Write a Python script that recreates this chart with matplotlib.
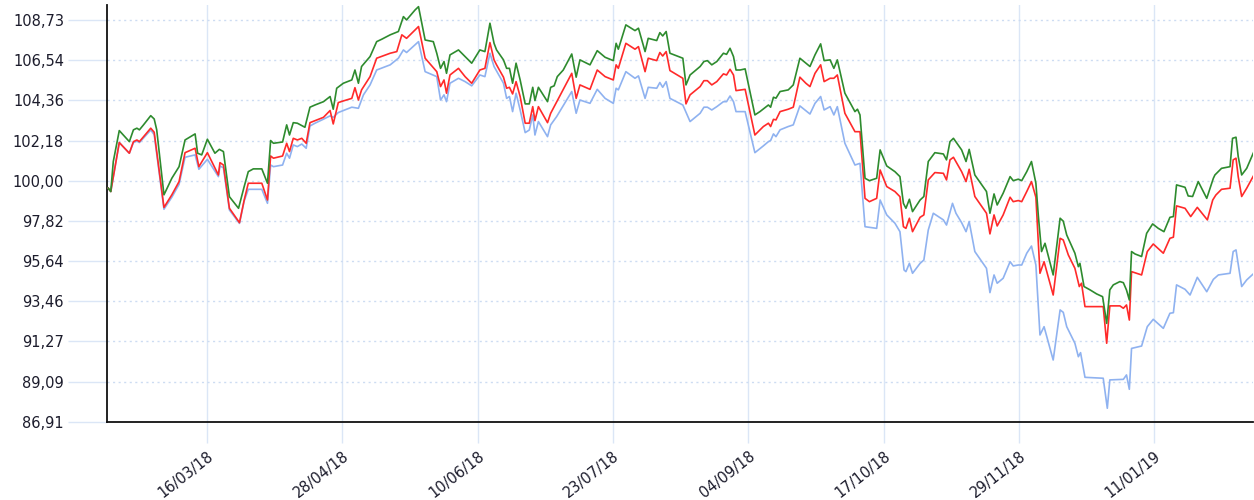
import matplotlib
matplotlib.use("Agg")
import matplotlib.pyplot as plt
import pandas as pd

START = pd.Timestamp("2018-02-12")

green_days = [0.6,1.4,2.2,4.1,7.3,8.6,9.7,10.5,11.8,14.1,15.2,16.0,18.3,20.8,23.1,25.0,28.2,29.0,30.3,32.1,34.5,35.9,37.2,39.1,42.0,43.8,45.1,46.7,49.4,51.2,52.2,53.1,56.0,57.3,58.2,59.4,60.7,63.1,64.7,66.3,69.0,71.1,72.1,73.2,75.3,78.0,79.0,80.1,81.1,83.8,85.9,87.5,90.2,92.8,94.4,95.4,98.1,99.2,101.3,103.9,105.0,106.2,107.3,108.1,109.2,111.9,114.0,116.1,118.7,120.3,121.9,123.2,124.0,126.2,127.2,128.1,129.1,130.2,131.5,133.1,134.4,135.5,136.2,137.3,140.2,141.2,142.3,143.3,145.2,147.9,149.3,150.5,153.7,156.0,158.5,161.1,162.0,162.7,165.1,168.0,169.1,171.2,172.2,174.9,175.9,176.8,177.9,179.1,183.2,184.2,185.5,188.7,189.9,191.0,192.4,194.0,196.1,197.1,198.2,199.3,200.1,201.4,203.0,206.1,207.7,210.4,211.1,212.0,212.8,214.1,216.7,218.3,220.4,222.3,223.6,225.2,227.0,228.1,230.0,231.2,232.3,234.7,237.9,238.7,239.5,241.1,242.5,244.8,245.9,248.0,250.6,252.2,253.3,254.1,255.2,256.2,258.6,259.8,261.2,263.3,266.0,267.0,268.1,269.2,271.8,273.2,274.2,276.0,279.7,280.8,282.1,283.1,285.0,287.2,288.2,289.8,290.9,292.5,294.0,295.4,296.2,297.2,298.3,300.9,303.1,304.1,305.2,307.8,308.9,309.4,310.7,312.6,314.7,316.6,317.9,318.9,320.0,322.1,323.2,324.2,325.1,325.8,326.9,329.0,330.6,332.5,334.3,336.1,338.0,339.1,340.1,342.8,343.8,345.2,347.0,349.7,351.8,352.3,354.4,357.1,357.9,359.0,359.7,360.8,362.4,364.7]
green_vals = [99.59,99.41,101.04,102.72,102.12,102.76,102.85,102.76,103.03,103.53,103.35,102.76,99.23,100.13,100.76,102.21,102.54,101.49,101.40,102.25,101.49,101.70,101.58,99.13,98.50,99.68,100.49,100.64,100.64,99.86,102.18,102.03,102.10,103.03,102.48,103.15,103.12,102.90,103.99,104.11,104.29,104.57,103.88,105.02,105.29,105.47,106.01,105.29,106.2,106.74,107.55,107.68,107.92,108.10,108.91,108.73,109.27,109.45,107.64,107.55,106.92,106.10,106.47,105.83,106.83,107.10,106.74,106.38,107.10,107.01,108.55,107.46,107.10,106.56,106.10,106.10,105.29,106.38,105.47,104.17,104.17,105.07,104.35,105.07,104.29,105.07,105.15,105.65,106.01,106.88,105.62,106.56,106.29,107.06,106.70,106.52,107.46,107.14,108.46,108.15,108.28,107.01,107.73,107.61,108.04,107.86,108.10,106.92,106.65,105.2,105.74,106.2,106.47,106.52,106.29,106.47,106.92,106.86,107.19,106.74,106.01,106.01,106.07,103.57,103.75,104.11,103.99,104.53,104.48,104.84,104.93,105.2,106.65,106.38,106.2,106.83,107.43,106.52,106.56,106.1,106.56,104.75,103.75,103.88,103.57,100.13,100.0,100.13,101.67,100.8,100.49,100.22,98.77,98.50,98.99,98.32,98.95,99.14,101.04,101.52,101.45,101.13,102.12,102.30,101.67,101.04,101.70,100.31,99.41,98.23,99.28,98.68,99.32,100.22,100.0,100.08,100.0,100.49,101.04,99.86,98.05,96.15,96.6,94.88,97.96,97.8,97.05,96.06,95.33,95.51,94.25,94.07,93.85,93.70,92.25,94.07,94.34,94.52,94.46,94.06,93.52,96.15,96.02,95.88,97.14,97.65,97.41,97.23,98.01,98.05,99.77,99.64,99.17,99.14,99.95,99.04,100.13,100.31,100.67,100.76,102.30,102.36,101.31,100.31,100.67,101.58]

red_days = [0.6,1.4,4.1,7.3,8.6,9.7,10.5,14.1,15.2,18.3,20.8,23.1,25.0,28.2,29.4,32.1,35.6,36.1,37.2,39.1,42.3,43.8,45.1,49.4,51.2,52.2,53.1,56.0,57.3,58.2,59.4,60.7,62.1,63.5,64.7,66.3,69.0,71.1,72.1,73.7,75.3,78.0,79.0,80.1,81.1,83.8,85.9,90.2,92.3,93.9,95.4,99.2,101.3,105.0,106.2,107.3,108.1,109.2,111.9,114.0,116.1,118.7,120.3,121.9,123.2,124.0,126.2,127.2,128.1,129.1,130.2,131.5,133.1,134.4,135.5,136.2,137.3,140.2,141.2,147.9,149.3,150.5,153.7,156.0,158.5,161.1,162.0,162.7,165.1,168.0,169.1,171.2,172.2,174.9,175.9,176.8,177.9,179.1,183.2,184.2,185.5,188.7,189.9,191.0,192.4,194.0,196.1,197.1,198.2,199.3,200.1,203.0,206.1,208.8,210.4,211.1,212.0,212.8,214.1,216.7,218.3,220.4,222.3,223.6,225.2,227.0,228.1,230.0,231.2,232.3,234.7,237.9,239.5,241.1,242.5,244.8,245.9,248.0,250.6,252.2,253.3,254.1,255.2,256.2,258.6,259.8,261.2,263.3,266.0,267.0,268.1,269.2,271.8,273.2,274.2,276.0,279.7,280.8,282.1,283.1,285.0,287.2,288.2,289.8,290.9,292.5,294.0,295.4,296.7,298.0,300.9,303.1,304.1,305.7,307.8,309.2,309.9,311.0,316.8,317.9,318.9,322.1,323.2,324.2,325.1,325.8,329.0,330.8,332.7,335.9,338.0,339.1,340.1,342.8,344.6,346.7,349.9,351.6,352.6,354.4,357.1,358.1,359.0,359.7,360.8,362.4,364.7]
red_vals = [99.59,99.41,102.07,101.49,102.12,102.21,102.12,102.85,102.63,98.55,99.23,99.95,101.52,101.76,100.76,101.52,100.31,100.98,100.85,98.50,97.72,98.95,99.86,99.86,98.95,101.34,101.22,101.34,102.03,101.58,102.30,102.21,102.30,102.03,103.15,103.26,103.44,103.81,103.08,104.24,104.33,104.47,105.05,104.38,104.93,105.65,106.65,106.92,107.01,107.92,107.73,108.37,106.65,105.92,105.11,105.47,104.75,105.74,106.10,105.65,105.29,106.01,106.10,107.50,106.56,106.29,105.62,105.02,105.07,104.71,105.38,104.57,103.12,103.12,104.02,103.26,104.02,103.15,103.66,105.83,104.47,105.2,104.96,106.01,105.65,105.47,106.29,106.10,107.46,107.14,107.28,105.92,106.65,106.52,106.96,106.77,107.01,105.98,105.56,104.17,104.66,105.11,105.43,105.43,105.2,105.38,105.80,105.74,106.05,105.74,104.89,104.96,102.48,102.94,103.12,102.94,103.33,103.30,103.75,103.88,103.99,105.62,105.29,105.11,105.83,106.29,105.38,105.56,105.56,105.74,103.66,102.66,102.66,99.04,98.86,99.04,100.58,99.68,99.41,99.13,97.50,97.41,97.96,97.23,98.01,98.14,100.04,100.44,100.40,100.04,101.13,101.27,100.49,99.95,100.62,99.14,98.23,97.11,98.14,97.54,98.14,99.10,98.86,98.92,98.86,99.41,99.95,99.1,94.97,95.6,93.79,96.87,96.78,95.97,95.24,94.25,94.43,93.16,93.16,91.17,93.2,93.2,93.07,93.25,92.43,95.06,94.88,96.15,96.56,96.06,96.87,96.93,98.63,98.50,98.05,98.55,97.87,98.95,99.22,99.53,99.59,101.13,101.22,100.22,99.14,99.59,100.31]

blue_days = [0.6,1.4,4.1,7.3,8.6,9.7,10.5,14.1,15.2,18.3,20.8,23.1,25.0,28.2,29.4,32.1,35.6,36.1,37.2,39.1,42.3,43.8,45.1,49.4,51.2,52.2,53.1,56.0,57.3,58.2,59.4,60.7,62.1,63.5,64.7,66.3,69.0,71.1,72.1,73.7,75.3,78.0,80.1,81.7,83.8,85.9,90.2,92.8,94.4,95.4,99.2,101.3,105.0,106.2,107.3,108.1,109.2,111.9,114.0,116.1,118.7,120.3,121.9,123.2,126.2,127.2,128.1,129.1,130.2,131.5,133.1,134.4,135.5,136.2,137.3,140.2,141.2,143.1,147.9,149.3,150.5,153.7,156.0,158.5,161.1,162.0,162.7,165.1,168.0,169.1,171.2,172.2,174.9,175.9,176.8,177.9,179.1,183.2,185.5,188.7,189.9,191.0,192.4,194.0,196.1,197.1,198.2,199.3,200.1,203.0,206.1,208.8,210.4,211.1,212.0,212.8,214.1,216.7,218.3,220.4,222.3,223.6,225.2,227.0,228.1,230.0,231.2,232.3,234.7,237.9,239.5,241.1,244.8,245.9,248.0,250.6,252.2,253.5,254.1,255.2,256.2,258.6,259.8,261.2,262.8,266.0,267.0,268.9,270.0,271.8,273.2,274.2,276.0,279.7,280.8,282.1,283.1,285.0,287.2,288.2,289.8,290.9,292.5,294.0,295.4,296.7,298.0,300.9,303.1,304.1,305.2,307.8,308.9,309.6,311.0,316.8,318.1,318.9,323.2,324.2,325.1,325.8,329.0,330.8,332.7,335.9,338.0,339.1,340.1,342.8,344.4,346.7,349.7,351.8,353.4,357.1,358.1,359.0,360.8,362.4,364.7]
blue_vals = [99.59,99.41,102.07,101.49,102.07,102.15,102.07,102.75,102.5,98.45,99.1,99.8,101.27,101.4,100.62,101.16,100.22,100.8,100.7,98.41,97.68,98.9,99.53,99.53,98.77,100.85,100.76,100.85,101.49,101.22,101.94,101.85,101.99,101.76,102.97,103.12,103.34,103.52,103.44,103.70,103.81,103.99,103.93,104.66,105.2,106.01,106.29,106.65,107.10,106.96,107.55,105.92,105.65,104.38,104.66,104.29,105.29,105.56,105.38,105.15,105.74,105.65,106.92,106.2,105.29,104.47,104.57,103.75,104.75,103.84,102.61,102.75,103.57,102.48,103.21,102.39,103.03,103.48,104.84,103.66,104.38,104.2,104.96,104.47,104.2,105.02,104.93,105.92,105.56,105.69,104.47,105.07,105.02,105.33,105.07,105.38,104.47,104.11,103.21,103.66,103.99,103.99,103.84,104.02,104.29,104.29,104.60,104.29,103.75,103.75,101.52,101.89,102.12,102.18,102.54,102.39,102.76,102.94,103.03,104.06,103.80,103.62,104.2,104.57,103.84,104.02,103.57,104.02,102.03,100.85,100.94,97.5,97.41,98.95,98.14,97.69,97.23,95.15,95.06,95.51,94.97,95.51,95.69,97.32,98.23,97.87,97.59,98.77,98.23,97.72,97.23,97.78,96.15,95.24,93.92,94.88,94.43,94.70,95.60,95.37,95.42,95.42,96.06,96.45,95.42,91.62,92.07,90.26,92.98,92.85,92.07,91.17,90.44,90.66,89.32,89.27,87.64,89.18,89.21,89.45,88.67,90.89,91.02,92.07,92.47,91.98,92.8,92.83,94.34,94.10,93.79,94.75,93.97,94.64,94.88,94.97,96.15,96.24,94.25,94.61,94.97]

y_ticks = [86.91, 89.09, 91.27, 93.46, 95.64, 97.82, 100.00, 102.18, 104.36, 106.54, 108.73]
x_tick_dates = ["2018-03-16", "2018-04-28", "2018-06-10", "2018-07-23",
                "2018-09-04", "2018-10-17", "2018-11-29", "2019-01-11"]


def to_dates(days):
    return START + pd.to_timedelta(days, unit="D")


fig = plt.figure(figsize=(12.54, 5.0), dpi=100)
ax = fig.add_axes([107 / 1254, 1 - 421.7 / 500, 1146 / 1254, 416.7 / 500])

grid_col = "#dbe6f6"
ax.plot(to_dates(blue_days), blue_vals, color="#8fb2f0", lw=1.2, zorder=3)
ax.plot(to_dates(red_days), red_vals, color="#ff2a2a", lw=1.2, zorder=4)
ax.plot(to_dates(green_days), green_vals, color="#2e8b2e", lw=1.2, zorder=5)

ax.set_ylim(86.91, 109.54)
ax.set_xlim(START + pd.Timedelta(days=0.2), START + pd.Timedelta(days=364.4))

ax.set_yticks(y_ticks)
ax.set_yticklabels([f"{v:.2f}".replace(".", ",") for v in y_ticks])
xt = pd.to_datetime(x_tick_dates)
ax.set_xticks(xt)
ax.set_xticklabels([d.strftime("%d/%m/%y") for d in xt], rotation=38,
                   ha="right", rotation_mode="anchor")

ax.grid(axis="x", color=grid_col, lw=1.0, ls="-", zorder=0)
ax.grid(axis="y", color="#cddcf2", lw=1.0, ls=(0, (1.5, 2.5)), zorder=0)

ax.tick_params(axis="y", length=28, width=1, color=grid_col, pad=3,
               labelsize=10.5, labelcolor="#1c1c2c")
ax.tick_params(axis="x", length=15, width=1, color=grid_col, pad=4,
               labelsize=10.5, labelcolor="#1c1c2c")

for s in ["top", "right"]:
    ax.spines[s].set_visible(False)
for s in ["left", "bottom"]:
    ax.spines[s].set_color("#111111")
    ax.spines[s].set_linewidth(1.3)

fig.savefig("out.png", dpi=100)
